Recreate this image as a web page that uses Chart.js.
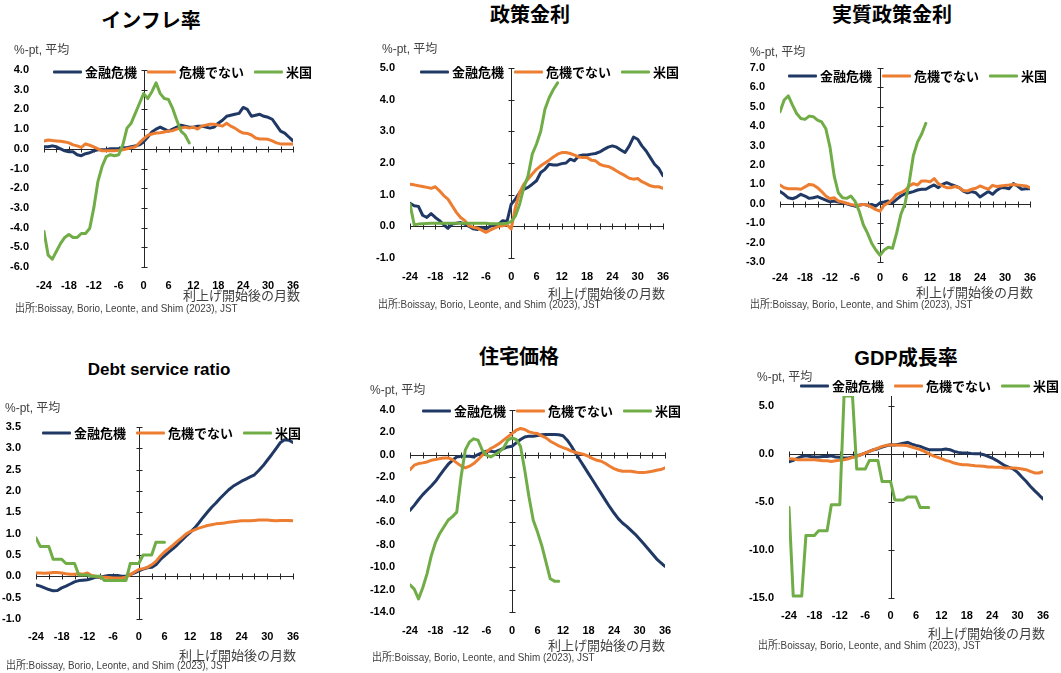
<!DOCTYPE html>
<html>
<head>
<meta charset="utf-8">
<script src="https://cdn.jsdelivr.net/npm/chart.js@4.4.1/dist/chart.umd.min.js"></script>
<style>
  body { margin: 0; background: #fff; }
  #wrap { position: relative; width: 1061px; height: 673px; overflow: hidden;
          font-family: "Liberation Sans", "Noto Sans CJK JP", sans-serif; }
  canvas { position: absolute; }
  .t { position: absolute; white-space: nowrap; line-height: 1; }
  .title { font-weight: bold; font-size: 20px; color: #000; transform: translate(-50%, -50%); }
  .unit { font-size: 12px; color: #404040; transform: translateY(-50%); }
  .xlab { font-size: 13px; color: #404040; transform: translate(-100%, -50%); }
  .src { font-size: 11px; color: #404040; transform-origin: 0 50%; transform: translateY(-50%) scaleX(0.9); }
  .legend { position: absolute; display: flex; align-items: center; transform: translateY(-50%);
            font-weight: bold; font-size: 13px; color: #000; white-space: nowrap; line-height: 1; }
  .legend .it { display: flex; align-items: center; margin-right: 10px; }
  .legend .sw { width: 29px; height: 3px; margin-right: 3px; border-radius: 1px; }
</style>
</head>
<body>
<div id="wrap"></div>
<script>
// months after the first rate hike
var months = [-24,-23,-22,-21,-20,-19,-18,-17,-16,-15,-14,-13,-12,-11,-10,-9,-8,-7,-6,-5,-4,-3,-2,-1,
  0,1,2,3,4,5,6,7,8,9,10,11,12,13,14,15,16,17,18,19,20,21,22,23,24,25,26,27,28,29,30,31,32,33,34,35,36];
var xTicks = [-24,-18,-12,-6,0,6,12,18,24,30,36];
var xTickMarks = [-24,-21,-18,-15,-12,-9,-6,-3,0,3,6,9,12,15,18,21,24,27,30,33,36];
var seriesNames = ['金融危機', '危機でない', '米国'];
var seriesColors = ['#1F3864', '#ED7D31', '#70AD47'];

// インフレ率
var inflFin = [0.1,0.1,0.15,0.1,0.0,-0.1,-0.15,-0.15,-0.3,-0.35,-0.25,-0.2,-0.1,-0.05,-0.05,-0.05,0.0,0.0,0.0,0.05,
  0.05,0.1,0.15,0.2,0.35,0.6,0.85,1.0,1.1,1.0,0.9,1.0,1.1,1.2,1.15,1.1,1.1,1.15,1.15,1.1,
  1.05,1.1,1.3,1.45,1.65,1.7,1.75,1.8,2.1,2.0,1.65,1.7,1.75,1.65,1.6,1.5,1.2,0.9,0.8,0.6,0.4];
var inflNo = [0.4,0.45,0.42,0.4,0.38,0.35,0.3,0.2,0.15,0.07,0.25,0.18,0.1,0.0,-0.1,-0.1,-0.1,-0.1,-0.08,-0.05,
  0.0,0.05,0.1,0.3,0.5,0.68,0.75,0.8,0.82,0.85,0.9,0.92,1.0,1.05,1.1,1.05,1.1,1.0,1.15,1.2,
  1.25,1.25,1.2,1.15,1.3,1.15,1.05,0.9,0.8,0.78,0.7,0.55,0.5,0.5,0.48,0.4,0.3,0.25,0.25,0.25,0.25];
var inflUS = [-4.2,-5.4,-5.6,-5.2,-4.8,-4.5,-4.35,-4.5,-4.5,-4.3,-4.3,-4.05,-3.0,-1.65,-0.9,-0.4,-0.3,-0.35,-0.3,0.2,
  1.05,1.3,1.8,2.3,2.8,2.55,2.9,3.35,2.8,2.55,2.5,2.05,1.45,0.9,0.7,0.3];
var inflTicks = [-6,-5,-4,-3,-2,-1,0,1,2,3,4];

// 政策金利
var polFin = [0.73,0.65,0.63,0.35,0.28,0.4,0.28,0.18,0.05,-0.06,0.07,0.1,0.12,0.07,0.0,-0.08,-0.1,-0.03,-0.08,0.0,
  0.04,0.07,0.18,0.15,0.7,0.86,1.07,1.17,1.23,1.33,1.44,1.7,1.8,1.96,1.94,1.94,1.98,2.0,2.12,2.07,
  2.22,2.25,2.25,2.28,2.3,2.35,2.43,2.5,2.54,2.5,2.41,2.33,2.54,2.82,2.75,2.54,2.38,2.17,1.96,1.83,1.6];
var polNo = [1.33,1.31,1.28,1.26,1.23,1.2,1.25,1.12,0.97,0.86,0.65,0.44,0.28,0.18,0.02,-0.03,-0.06,-0.12,-0.19,-0.12,
  -0.06,0.0,0.02,0.05,-0.08,0.6,1.07,1.33,1.49,1.65,1.8,1.91,2.0,2.09,2.19,2.28,2.33,2.33,2.3,2.25,
  2.19,2.17,2.17,2.09,2.07,1.96,1.91,1.89,1.83,1.75,1.67,1.6,1.52,1.49,1.51,1.41,1.35,1.28,1.25,1.25,1.2];
var polUS = [0.7,0.05,0.07,0.08,0.09,0.1,0.1,0.1,0.1,0.1,0.1,0.1,0.1,0.1,0.1,0.1,0.1,0.1,0.1,0.08,
  0.08,0.08,0.08,0.1,0.15,0.33,0.7,1.23,1.6,2.28,2.6,3.0,3.7,4.06,4.32,4.53];
var polTicks = [-1,0,1,2,3,4,5];

// 実質政策金利
var realFin = [0.63,0.49,0.31,0.26,0.35,0.49,0.4,0.28,0.31,0.37,0.28,0.19,0.1,0.14,0.09,0.05,0.0,-0.07,-0.12,-0.07,
  -0.03,-0.07,-0.03,-0.12,0.05,0.09,0.14,0.05,0.23,0.4,0.52,0.57,0.63,0.71,0.75,0.75,0.87,0.97,0.83,1.0,
  1.09,1.0,0.92,0.83,0.66,0.57,0.63,0.57,0.35,0.49,0.63,0.49,0.69,0.83,0.83,0.78,1.04,0.92,0.75,0.78,0.78];
var realNo = [0.97,0.83,0.78,0.78,0.78,0.75,0.87,1.0,0.97,0.83,0.63,0.4,0.26,0.31,0.14,0.09,0.03,-0.03,-0.07,-0.07,
  -0.03,-0.07,-0.17,-0.3,-0.38,-0.07,0.05,0.23,0.49,0.57,0.69,0.92,1.04,0.97,1.18,1.18,1.13,1.3,1.04,0.92,
  0.83,0.83,0.89,0.83,0.69,0.66,0.75,0.8,0.92,0.83,0.75,0.95,0.89,0.92,0.95,0.97,1.0,0.97,0.95,0.92,0.83];
var realUS = [4.74,5.35,5.56,5.09,4.65,4.4,4.35,4.52,4.49,4.31,4.22,3.87,2.92,1.44,0.57,0.31,0.28,0.4,0.14,-0.38,
  -1.08,-1.51,-2.03,-2.38,-2.65,-2.38,-2.24,-2.3,-1.5,-0.55,0.0,1.1,2.48,3.18,3.6,4.15];
var realTicks = [-3,-2,-1,0,1,2,3,4,5,6,7];

// Debt service ratio
var dsrFin = [-0.2,-0.23,-0.27,-0.31,-0.34,-0.33,-0.27,-0.23,-0.18,-0.13,-0.1,-0.09,-0.08,-0.05,-0.02,-0.02,0.0,0.02,0.02,0.02,
  0.0,0.0,0.04,0.08,0.13,0.17,0.2,0.21,0.27,0.39,0.48,0.57,0.65,0.74,0.84,0.94,1.03,1.13,1.25,1.38,
  1.5,1.62,1.72,1.83,1.93,2.03,2.11,2.17,2.23,2.28,2.33,2.38,2.48,2.59,2.72,2.85,2.99,3.13,3.2,3.19,3.14];
var dsrNo = [0.08,0.08,0.07,0.08,0.09,0.09,0.08,0.06,0.05,0.05,0.06,0.05,0.08,0.02,0.0,-0.02,-0.02,-0.03,-0.04,-0.04,
  -0.04,-0.02,0.04,0.1,0.16,0.18,0.21,0.27,0.35,0.47,0.57,0.65,0.73,0.82,0.9,0.99,1.05,1.09,1.13,1.16,
  1.19,1.21,1.23,1.24,1.25,1.27,1.28,1.29,1.3,1.3,1.3,1.31,1.32,1.32,1.32,1.31,1.3,1.31,1.31,1.31,1.3];
var dsrUS = [0.9,0.7,0.7,0.7,0.4,0.4,0.4,0.3,0.3,0.3,0.03,0.03,0.03,0.0,0.0,0.0,-0.1,-0.1,-0.1,-0.1,
  -0.1,-0.1,0.3,0.3,0.3,0.5,0.5,0.5,0.8,0.8,0.8];
var dsrTicks = [-1,-0.5,0,0.5,1,1.5,2,2.5,3,3.5];

// 住宅価格
var houseFin = [-4.94,-4.5,-4.0,-3.54,-3.15,-2.77,-2.35,-1.82,-1.31,-0.83,-0.48,-0.18,-0.12,-0.12,-0.12,-0.18,0.03,0.2,0.33,0.33,
  0.27,0.42,0.57,0.71,0.77,1.07,1.37,1.6,1.67,1.67,1.73,1.79,1.82,1.82,1.82,1.79,1.7,1.31,0.77,0.12,
  -0.48,-1.07,-1.67,-2.26,-2.86,-3.45,-4.05,-4.64,-5.18,-5.68,-6.07,-6.37,-6.73,-7.08,-7.5,-7.92,-8.36,-8.81,-9.26,-9.61,-9.94];
var houseNo = [-1.31,-0.92,-0.77,-0.71,-0.63,-0.48,-0.42,-0.33,-0.27,-0.27,-0.42,-0.71,-0.98,-1.16,-1.01,-0.77,-0.42,-0.03,0.27,0.57,
  0.77,1.01,1.31,1.61,1.9,2.2,2.35,2.26,2.05,1.96,1.9,1.7,1.52,1.22,1.01,0.8,0.65,0.51,0.33,0.21,
  0.12,0.03,-0.12,-0.33,-0.48,-0.57,-0.77,-1.01,-1.22,-1.37,-1.46,-1.46,-1.46,-1.52,-1.58,-1.58,-1.52,-1.46,-1.37,-1.31,-1.16];
var houseUS = [-11.58,-11.96,-12.83,-11.84,-10.6,-9.0,-7.8,-7.0,-6.4,-5.8,-5.5,-5.1,-2.0,0.42,1.16,1.43,1.31,0.42,-0.03,-0.18,
  0.03,0.27,0.62,1.31,1.52,1.37,0.77,-1.37,-3.75,-5.83,-6.88,-8.07,-9.55,-11.04,-11.25,-11.25];
var houseTicks = [-14,-12,-10,-8,-6,-4,-2,0,2,4];

// GDP成長率 (US peak runs off the top of the axis, shown at the axis max)
var gdpFin = [-0.83,-0.69,-0.48,-0.28,-0.21,-0.28,-0.35,-0.35,-0.28,-0.28,-0.21,-0.35,-0.38,-0.45,-0.45,-0.35,-0.21,-0.1,0.07,0.24,
  0.42,0.52,0.69,0.83,0.93,0.9,1.0,1.1,1.18,1.0,0.87,0.76,0.59,0.42,0.42,0.42,0.42,0.48,0.42,0.24,
  0.14,0.07,0.07,0.03,0.0,0.0,-0.1,-0.28,-0.45,-0.69,-0.97,-1.25,-1.42,-1.59,-1.94,-2.42,-2.87,-3.39,-3.84,-4.26,-4.71];
var gdpNo = [-0.52,-0.55,-0.62,-0.62,-0.62,-0.62,-0.62,-0.69,-0.73,-0.73,-0.8,-0.73,-0.69,-0.62,-0.52,-0.38,-0.28,-0.1,0.07,0.24,
  0.42,0.59,0.76,0.87,0.9,0.9,0.87,0.87,0.83,0.69,0.55,0.42,0.24,0.0,-0.21,-0.35,-0.52,-0.69,-0.8,-0.97,
  -1.07,-1.14,-1.14,-1.21,-1.25,-1.28,-1.31,-1.38,-1.38,-1.42,-1.42,-1.49,-1.49,-1.49,-1.52,-1.59,-1.66,-1.83,-2.0,-2.0,-1.87];
var gdpUS = [-5.6,-14.8,-14.8,-14.8,-8.5,-8.5,-8.5,-8.0,-8.0,-8.0,-5.3,-5.3,-5.3,6.0,6.0,6.0,-1.6,-1.6,-1.6,-0.7,
  -0.7,-0.7,-2.9,-2.9,-2.9,-4.8,-4.8,-4.8,-4.5,-4.5,-4.5,-5.6,-5.6,-5.6];
var gdpTicks = [-15,-10,-5,0,5];

var panels = [
  { title: 'インフレ率', data: [inflFin, inflNo, inflUS], ticks: inflTicks, yMin: -6, yMax: 4,
    box: { l: 44, t: 70, r: 293, b: 267 }, xPad: 12,
    titleAt: [151, 21], unitAt: [14, 50], legendAt: [53, 72], xlabAt: [300, 295], srcAt: [15, 308] },
  { title: '政策金利', data: [polFin, polNo, polUS], ticks: polTicks, yMin: -1, yMax: 5,
    box: { l: 410, t: 68, r: 663, b: 258 }, xPad: 12,
    titleAt: [530, 15], unitAt: [382, 49], legendAt: [420, 72], xlabAt: [665, 293], srcAt: [378, 304] },
  { title: '実質政策金利', data: [realFin, realNo, realUS], ticks: realTicks, yMin: -3, yMax: 7,
    box: { l: 780, t: 68, r: 1030, b: 262 }, xPad: 9,
    titleAt: [892, 15], unitAt: [750, 52], legendAt: [788, 76], xlabAt: [1033, 292], srcAt: [750, 304] },
  { title: 'Debt service ratio', titleSize: 17, data: [dsrFin, dsrNo, dsrUS], ticks: dsrTicks, yMin: -1, yMax: 3.5,
    box: { l: 36, t: 427, r: 293, b: 619 }, xPad: 11,
    titleAt: [159, 369], unitAt: [5, 408], legendAt: [42, 433], xlabAt: [296, 655], srcAt: [6, 665] },
  { title: '住宅価格', data: [houseFin, houseNo, houseUS], ticks: houseTicks, yMin: -14, yMax: 4,
    box: { l: 410, t: 410, r: 665, b: 612 }, xPad: 12,
    titleAt: [519, 357], unitAt: [370, 390], legendAt: [422, 411], xlabAt: [665, 645], srcAt: [372, 657] },
  { title: 'GDP成長率', data: [gdpFin, gdpNo, gdpUS], ticks: gdpTicks, yMin: -15, yMax: 6,
    box: { l: 789, t: 396, r: 1043, b: 598 }, xPad: 11,
    titleAt: [906, 358], unitAt: [757, 377], legendAt: [800, 386], xlabAt: [1045, 633], srcAt: [758, 645] }
];

// axes crossing at zero, with tick marks on both sides (Excel style)
var crossAxes = {
  id: 'crossAxes',
  beforeDatasetsDraw: function (chart) {
    var ctx = chart.ctx, xs = chart.scales.x, ys = chart.scales.y;
    var y0 = Math.round(ys.getPixelForValue(0)) + 0.5;
    var x0 = Math.round(xs.getPixelForValue(0)) + 0.5;
    ctx.save();
    ctx.strokeStyle = '#262626';
    ctx.lineWidth = 1;
    ctx.beginPath();
    ctx.moveTo(xs.left, y0); ctx.lineTo(xs.right, y0);
    ctx.moveTo(x0, ys.top); ctx.lineTo(x0, ys.bottom);
    xTickMarks.forEach(function (m) {
      var px = Math.round(xs.getPixelForValue(m)) + 0.5;
      ctx.moveTo(px, y0 - 3); ctx.lineTo(px, y0 + 3);
    });
    chart.options.yTickMarks.forEach(function (v) {
      var py = Math.round(ys.getPixelForValue(v)) + 0.5;
      ctx.moveTo(x0 - 3, py); ctx.lineTo(x0 + 3, py);
    });
    ctx.stroke();
    ctx.restore();
  }
};

var wrap = document.getElementById('wrap');
var tickFont = { family: 'Liberation Sans', size: 11, weight: 'bold' };

function addText(cls, text, at, size) {
  var d = document.createElement('div');
  d.className = 't ' + cls;
  d.textContent = text;
  d.style.left = at[0] + 'px';
  d.style.top = at[1] + 'px';
  if (size) d.style.fontSize = size + 'px';
  wrap.appendChild(d);
}

panels.forEach(function (p) {
  // the scales add tick padding to their own padding, so leave room above and to the right
  var yW = Math.min(40, p.box.l), padTop = 24, padRight = 22, xH = 30;
  var cv = document.createElement('canvas');
  var w = p.box.r - p.box.l + yW + padRight;
  var h = padTop + p.box.b - p.box.t + xH;
  cv.width = w; cv.height = h;
  cv.style.width = w + 'px'; cv.style.height = h + 'px';
  cv.style.left = (p.box.l - yW) + 'px';
  cv.style.top = (p.box.t - padTop) + 'px';
  wrap.appendChild(cv);

  new Chart(cv.getContext('2d'), {
    type: 'line',
    data: {
      datasets: p.data.map(function (arr, k) {
        return {
          label: seriesNames[k],
          data: arr.map(function (v, i) { return { x: months[i], y: v }; }),
          borderColor: seriesColors[k],
          borderWidth: 3,
          pointRadius: 0,
          tension: 0,
          fill: false,
          borderJoinStyle: 'round',
          borderCapStyle: 'round',
          order: 2 - k   // later series drawn on top, as in Excel
        };
      })
    },
    options: {
      responsive: false,
      animation: false,
      events: [],
      yTickMarks: p.ticks,
      layout: { padding: { left: 0, top: padTop, right: padRight, bottom: 0 } },
      plugins: { legend: { display: false }, tooltip: { enabled: false } },
      scales: {
        x: {
          type: 'linear', min: -24, max: 36,
          grid: { display: false, drawTicks: false },
          border: { display: false },
          afterBuildTicks: function (s) { s.ticks = xTicks.map(function (v) { return { value: v }; }); },
          afterFit: function (s) { s.height = xH; },
          ticks: { padding: p.xPad, color: '#000', font: tickFont, autoSkip: false, maxRotation: 0,
                   callback: function (v) { return String(v); } }
        },
        y: {
          type: 'linear', min: p.yMin, max: p.yMax,
          grid: { display: false, drawTicks: false },
          border: { display: false },
          afterBuildTicks: function (s) { s.ticks = p.ticks.map(function (v) { return { value: v }; }); },
          afterFit: function (s) { s.width = yW; },
          ticks: { padding: 15, color: '#000', font: tickFont,
                   callback: function (v) { return Number(v).toFixed(1); } }
        }
      }
    },
    plugins: [crossAxes]
  });

  addText('title', p.title, p.titleAt, p.titleSize);
  addText('unit', '%-pt, 平均', p.unitAt);
  addText('xlab', '利上げ開始後の月数', p.xlabAt);
  addText('src', '出所:Boissay, Borio, Leonte, and Shim (2023), JST', p.srcAt);

  var lg = document.createElement('div');
  lg.className = 'legend';
  lg.style.left = p.legendAt[0] + 'px';
  lg.style.top = p.legendAt[1] + 'px';
  seriesNames.forEach(function (name, k) {
    var it = document.createElement('div');
    it.className = 'it';
    var sw = document.createElement('span');
    sw.className = 'sw';
    sw.style.background = seriesColors[k];
    var tx = document.createElement('span');
    tx.textContent = name;
    it.appendChild(sw);
    it.appendChild(tx);
    lg.appendChild(it);
  });
  wrap.appendChild(lg);
});
</script>
</body>
</html>
